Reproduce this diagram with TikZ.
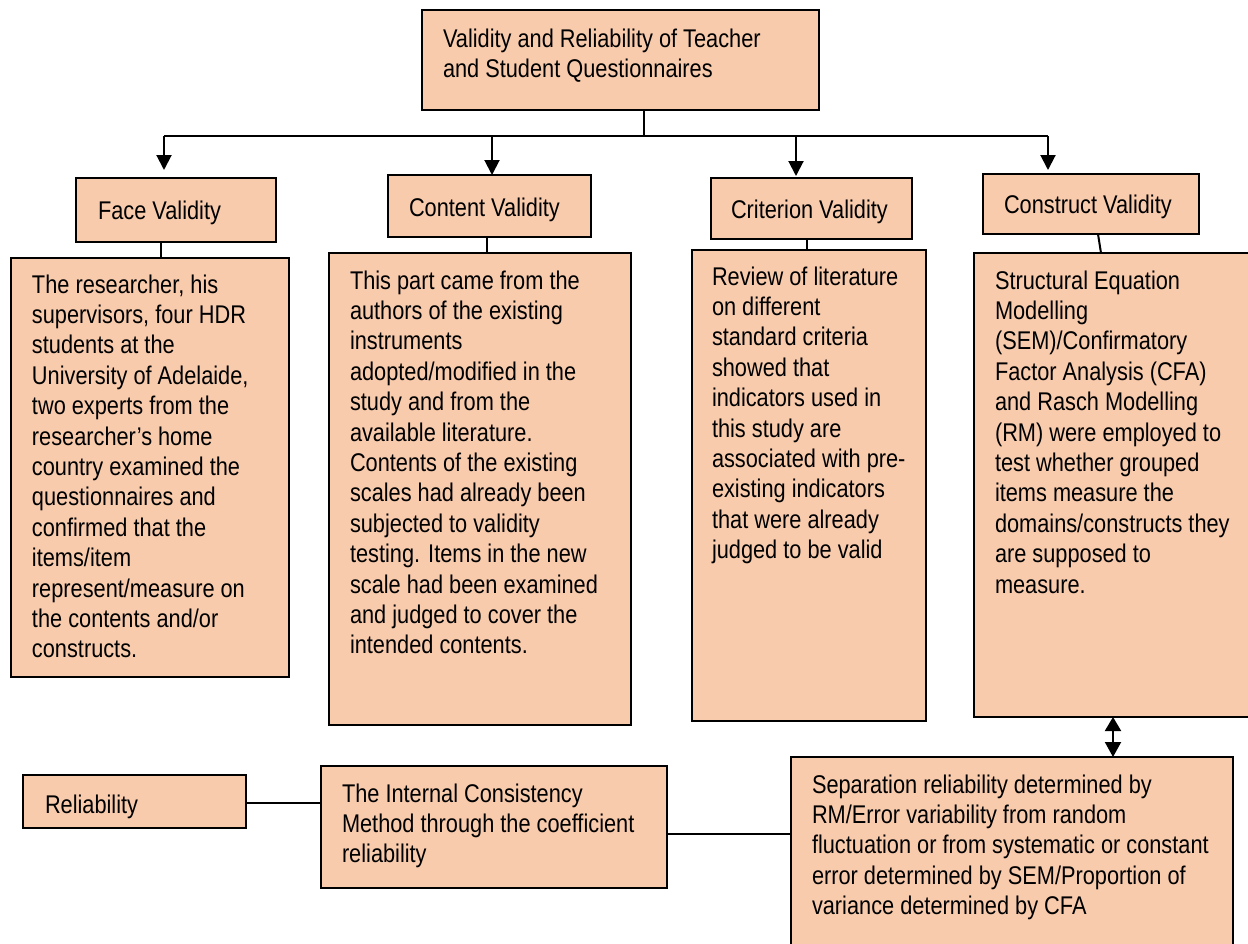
\documentclass[tikz,border=0pt]{standalone}
\usepackage{fontspec}
\setmainfont{Liberation Sans}[FakeStretch=0.85]
\usetikzlibrary{arrows.meta}
\definecolor{peach}{HTML}{F8CBAD}
\newcommand\bodytext{\fontsize{12.8pt}{15.2pt}\selectfont}
\newcommand\textlines[1]{\parbox[t]{300pt}{\raggedright #1}}

\begin{document}
\begin{tikzpicture}[x=0.5pt,y=-0.5pt,
  panel/.style={draw=black,line width=1.1pt,fill=peach,inner sep=0pt,outer sep=0pt,anchor=north west},
  boxtext/.style={anchor=base west,inner sep=0pt,outer sep=0pt,font=\bodytext},
  wire/.style={draw=black,line width=1pt},
  downarrow/.style={wire,-{Triangle[length=7.5pt,width=7.5pt]}},
  twoway/.style={wire,{Triangle[length=7pt,width=8pt]}-{Triangle[length=7.5pt,width=8pt]}},
]
\useasboundingbox (0,0) rectangle (1248,943);
\clip (0,0) rectangle (1248,943);

% ---- boxes ----
\node[panel,minimum width=198.5pt,minimum height=50pt] (top) at (422,10) {};
\node[panel,minimum width=100pt,minimum height=32pt] (face) at (76,178) {};
\node[panel,minimum width=101.5pt,minimum height=31pt] (content) at (388,175) {};
\node[panel,minimum width=100.5pt,minimum height=30.5pt] (criterion) at (711,178) {};
\node[panel,minimum width=108pt,minimum height=30pt] (construct) at (983,174) {};
\node[panel,minimum width=139pt,minimum height=209.5pt] (faced) at (11,258) {};
\node[panel,minimum width=151pt,minimum height=236pt] (contentd) at (329,253) {};
\node[panel,minimum width=117pt,minimum height=235.5pt] (criteriond) at (692,250) {};
\node[panel,minimum width=139pt,minimum height=232pt] (constructd) at (974,253) {};
\node[panel,minimum width=111.5pt,minimum height=26.5pt] (rel) at (23,775) {};
\node[panel,minimum width=173pt,minimum height=61pt] (internal) at (321,766) {};
\node[panel,minimum width=221pt,minimum height=101.5pt] (sep) at (791,757) {};

% ---- texts ----
\node[boxtext] (topT) at ([shift={(21,37)}]top.north west)
  {\textlines{Validity and Reliability of Teacher\\and Student Questionnaires}};
\node[boxtext] (faceT) at ([shift={(22,41)}]face.north west) {Face Validity};
\node[boxtext] (contentT) at ([shift={(21,41)}]content.north west) {Content Validity};
\node[boxtext] (criterionT) at ([shift={(20,40)}]criterion.north west) {Criterion Validity};
\node[boxtext] (constructT) at ([shift={(21,39)}]construct.north west) {Construct Validity};
\node[boxtext] (facedT) at ([shift={(21,35)}]faced.north west)
  {\textlines{The researcher, his\\supervisors, four HDR\\students at the\\University of Adelaide,\\two experts from the\\researcher’s home\\country examined the\\questionnaires and\\confirmed that the\\items/item\\represent/measure on\\the contents and/or\\constructs.}};
\node[boxtext] (contentdT) at ([shift={(21,36)}]contentd.north west)
  {\textlines{This part came from the\\authors of the existing\\instruments\\adopted/modified in the\\study and from the\\available literature.\\Contents of the existing\\scales had already been\\subjected to validity\\testing. Items in the new\\scale had been examined\\and judged to cover the\\intended contents.}};
\node[boxtext] (criteriondT) at ([shift={(20,35)}]criteriond.north west)
  {\textlines{Review of literature\\on different\\standard criteria\\showed that\\indicators used in\\this study are\\associated with pre-\\existing indicators\\that were already\\judged to be valid}};
\node[boxtext] (constructdT) at ([shift={(21,36)}]constructd.north west)
  {\textlines{Structural Equation\\Modelling\\(SEM)/Confirmatory\\Factor Analysis (CFA)\\and Rasch Modelling\\(RM) were employed to\\test whether grouped\\items measure the\\domains/constructs they\\are supposed to\\measure.}};
\node[boxtext] (relT) at ([shift={(22,38)}]rel.north west) {Reliability};
\node[boxtext] (internalT) at ([shift={(21,36)}]internal.north west)
  {\textlines{The Internal Consistency\\Method through the coefficient\\reliability}};
\node[boxtext] (sepT) at ([shift={(21,36)}]sep.north west)
  {\textlines{Separation reliability determined by\\RM/Error variability from random\\fluctuation or from systematic or constant\\error determined by SEM/Proportion of\\variance determined by CFA}};

% ---- branching bus under the title ----
\coordinate (trunk) at (644,136);
\coordinate (b1) at (164,136);
\coordinate (b2) at (492,136);
\coordinate (b3) at (796,136);
\coordinate (b4) at (1048,136);
\draw[wire] (trunk |- top.south) -- (trunk);
\draw[wire] (b1) -- (b4);
\draw[downarrow,shorten >=4pt] (b1) -- (b1 |- face.north);
\draw[downarrow] (b2) -- (b2 |- content.north);
\draw[downarrow,shorten >=1pt] (b3) -- (b3 |- criterion.north);
\draw[downarrow,shorten >=2pt] (b4) -- (b4 |- construct.north);

% ---- header to description links ----
\coordinate (c1) at (161,0);
\coordinate (c2) at (487,0);
\coordinate (c3) at (807,0);
\coordinate (c4a) at (1098,0);
\coordinate (c4b) at (1101,0);
\draw[wire] (c1 |- face.south) -- (c1 |- faced.north);
\draw[wire] (c2 |- content.south) -- (c2 |- contentd.north);
\draw[wire] (c3 |- criterion.south) -- (c3 |- criteriond.north);
\draw[wire] (c4a |- construct.south) -- (c4b |- constructd.north);

% ---- construct validity <-> separation reliability ----
\coordinate (d1) at (1113,0);
\draw[twoway] (d1 |- constructd.south) -- (d1 |- sep.north);

% ---- reliability row ----
\coordinate (r1) at (0,803);
\coordinate (r2) at (0,834);
\draw[wire] (r1 -| rel.east) -- (r1 -| internal.west);
\draw[wire] (r2 -| internal.east) -- (r2 -| sep.west);
\end{tikzpicture}
\end{document}
